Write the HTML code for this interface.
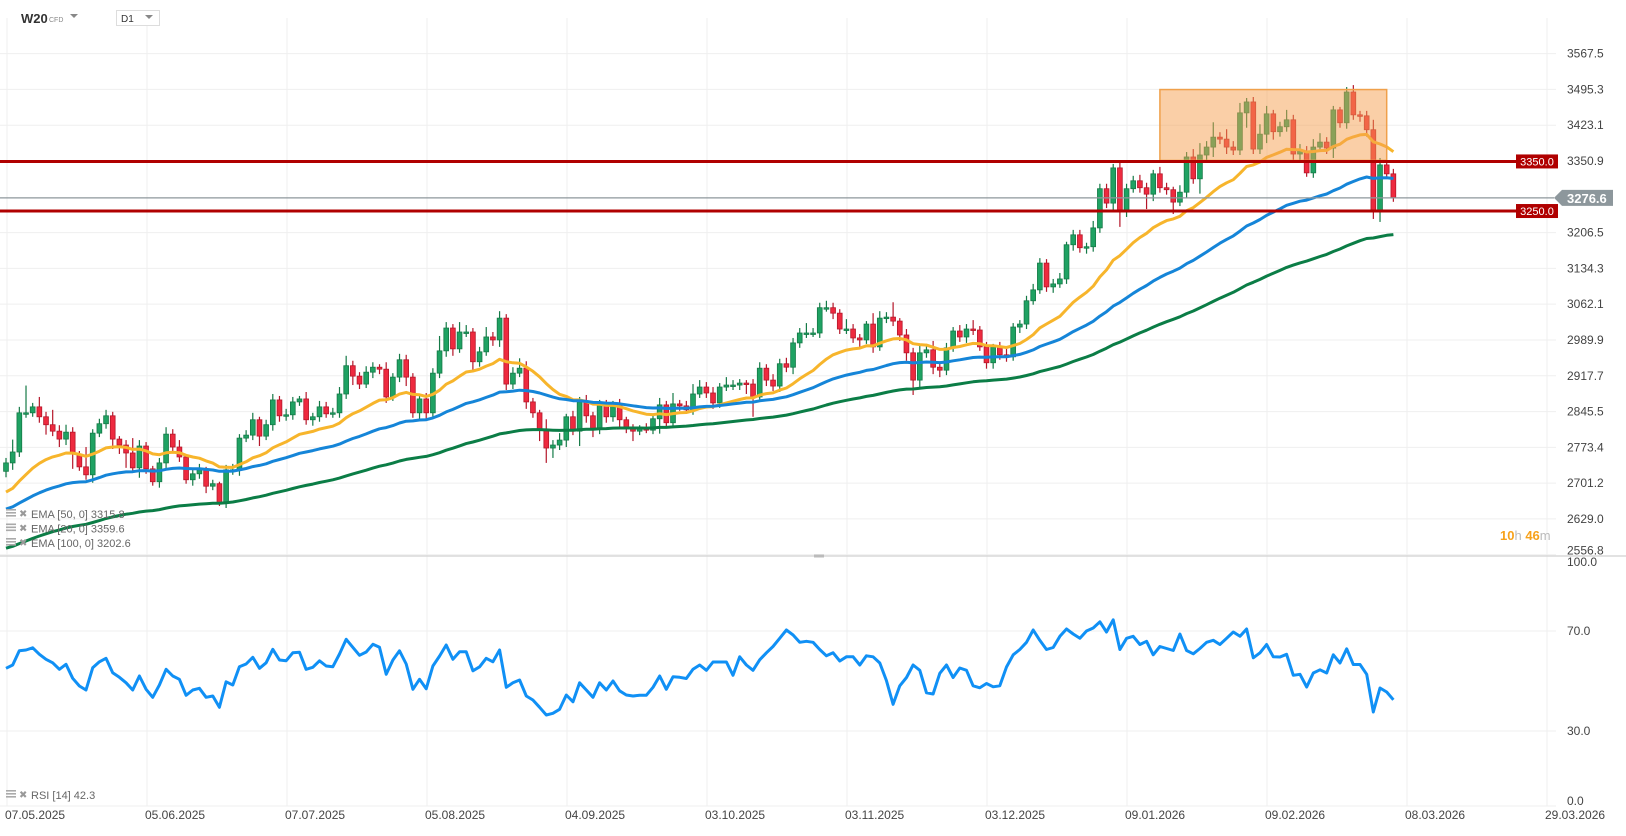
<!DOCTYPE html>
<html><head><meta charset="utf-8"><style>
html,body{margin:0;padding:0;background:#fff;}
body{width:1626px;height:831px;overflow:hidden;font-family:"Liberation Sans",sans-serif;}
svg text{font-family:"Liberation Sans",sans-serif;}
</style></head><body>
<svg id="chart" width="1626" height="831" xmlns="http://www.w3.org/2000/svg">
<g id="grid"></g>
<g id="candles"></g>
<g id="emas"></g>
<g id="overlay"></g>
<g id="rsi"></g>
<g id="axes"></g>
<g id="header">
  <text x="21" y="23" font-size="13" font-weight="bold" fill="#333">W20</text>
  <text x="49" y="22" font-size="7" fill="#888">CFD</text>
  <path d="M70 14 L78 14 L74 18 Z" fill="#888"/>
  <rect x="116.5" y="10.5" width="43" height="15" fill="#fff" stroke="#ddd"/>
  <text x="121" y="22" font-size="10" fill="#333">D1</text>
  <path d="M145 15 L153 15 L149 19 Z" fill="#888"/>
</g>
</svg>
<script>
const closes=[2742,2764,2843,2843,2855,2835,2819,2806,2790,2804,2760,2734,2718,2802,2821,2837,2790,2778,2762,2732,2776,2730,2704,2742,2800,2774,2754,2708,2720,2728,2695,2700,2661,2728,2728,2792,2798,2829,2796,2819,2869,2837,2839,2865,2871,2829,2835,2855,2841,2843,2881,2938,2917,2901,2925,2935,2931,2875,2915,2950,2915,2843,2871,2843,2923,2968,3014,2972,3006,3006,2946,2966,2996,2990,3034,2901,2923,2933,2865,2843,2810,2772,2778,2788,2835,2806,2865,2837,2810,2859,2835,2859,2829,2812,2806,2812,2808,2831,2859,2823,2861,2857,2849,2881,2895,2883,2863,2895,2899,2899,2903,2901,2875,2933,2909,2897,2942,2935,2984,3004,3004,3004,3055,3055,3044,3012,3012,2994,2990,3022,2976,3034,3036,3028,3000,2964,2909,2964,2970,2935,2929,2974,3008,2996,3012,3010,2976,2944,2976,2960,2956,3016,3022,3069,3091,3145,3097,3103,3113,3182,3202,3176,3178,3216,3295,3266,3337,3248,3295,3311,3297,3284,3325,3297,3293,3268,3288,3359,3315,3363,3379,3399,3395,3379,3373,3448,3470,3375,3405,3446,3410,3420,3434,3365,3371,3327,3379,3389,3377,3454,3428,3490,3444,3442,3414,3248,3343,3325,3276.6];
const firstOpen=[2725];
const wickUp=[10,25,12,55,8,20,10,30,12,15,10,6,40,8,10,12,8,6,10,30,12,8,6,10,14,10,14,4,10,12,6,8,4,10,12,8,10,14,6,10,12,8,12,10,6,14,8,12,10,10,14,20,10,8,12,10,6,14,8,12,10,8,6,12,10,30,12,8,20,14,8,10,20,10,14,8,12,20,14,8,6,20,10,14,6,12,10,14,8,10,10,8,12,6,8,6,10,10,14,8,22,8,10,20,14,10,12,8,16,10,8,6,10,12,8,12,10,12,10,10,20,10,10,14,10,8,20,10,8,6,22,14,10,30,6,12,10,14,12,18,10,10,8,12,10,18,8,10,6,10,12,8,8,10,12,10,8,10,12,6,10,10,8,14,10,10,8,10,10,10,12,10,8,14,10,6,14,10,16,24,12,30,10,20,12,20,8,10,20,16,8,10,20,10,14,10,16,18,10,8,6,10,14,8,10,20,14,10,10,10,8,6];
const wickDn=[12,14,10,10,8,12,20,10,16,12,30,8,10,16,8,10,20,18,30,10,20,10,8,12,14,10,10,8,12,10,14,8,6,10,10,12,8,10,20,8,12,12,10,10,8,10,12,10,8,8,10,10,18,10,8,12,10,12,8,10,18,10,16,12,8,10,12,14,8,10,20,10,8,12,14,12,10,8,14,10,24,30,20,10,14,8,30,14,16,10,12,10,16,10,20,8,6,8,30,10,8,10,8,10,8,10,12,10,8,10,10,20,40,10,12,10,12,10,14,10,10,8,10,8,12,10,10,10,14,8,12,8,10,10,12,16,30,14,10,14,14,10,8,10,12,10,8,12,12,10,10,8,12,10,8,8,10,12,8,10,12,10,12,10,10,10,14,30,10,8,10,30,14,10,10,24,8,12,10,30,10,20,10,14,10,10,30,10,10,18,16,10,10,12,14,8,10,10,12,20,10,12,10,12,14,14,20,10,8,8,6];
const rsiVals=[55.1,56.4,62.1,62.4,63.3,60.7,58.7,57.3,54.7,56.7,51.1,48,46.4,55.3,57.7,59.1,53.3,51.5,49.3,46.4,52,46.7,43.5,48.4,54.7,52,50.7,44.3,46.4,47.1,43.5,44,39.5,49.7,48.4,55.7,56.8,59.5,55.1,57.3,62.7,58.4,58.1,61.3,61.5,54.7,55.5,58.1,56,55.7,60.8,66.7,63.5,60.3,61.6,64.7,63.5,52.7,58.4,62.1,56.8,46.7,50.7,46.9,56,60,64.4,58.7,61.7,61.7,54.1,55.7,59.1,57.7,62.4,47.5,49.3,50.4,44,42.4,39.5,36.4,37.1,38.7,44.4,41.7,49.3,46.4,43.5,49.3,46.4,50,46.1,44.4,44,44.3,44.3,47.5,52,46.7,51.7,51.5,51,54.7,56.4,
54.3,57.6,57.6,57.6,52.3,59.7,56.4,54.3,58.5,61.3,63.8,67.1,70.4,68.4,65.5,65.9,65.5,62.6,60.1,61.3,58,59.7,59.7,56.4,60.1,59.7,57.2,50.2,40.7,48.1,51.4,56.4,54.3,45.3,44.8,53.1,56.4,51.4,55.2,54.3,48.1,47.3,49,47.7,48.1,55.6,60.5,62.6,65.5,70.4,66.3,62.6,63.4,67.9,70.8,68.8,67.1,70,71.2,73.7,69.6,74.5,62.6,67.1,67.9,64.6,65.9,60.5,63.8,63,62.2,68.8,62.2,60.9,63,65.5,66.3,64.6,67.1,69.6,67.9,70.8,59.3,61.3,64.6,59.7,
59.6,60.7,52.3,52.7,47.6,53.2,54.5,53.2,60.5,57.2,62.9,56.6,56.6,52.7,37.6,47.2,45.6,42.5];
const priceTicks=[3567.5,3495.3,3423.1,3350.9,3206.5,3134.3,3062.1,2989.9,2917.7,2845.5,2773.4,2701.2,2629.0,2556.8];
const rsiTicks=[100,70,30,0];
const rsiTickLabels=["100.0","70.0","30.0","0.0"];
const dateLabels=["07.05.2025","05.06.2025","07.07.2025","05.08.2025","04.09.2025","03.10.2025","03.11.2025","03.12.2025","09.01.2026","09.02.2026","08.03.2026","29.03.2026"];
const emaPeriods=[20,50,100];
const emaSeeds=[2683,2649,2570];
const emaLabelValues=["3359.6","3315.8","3202.6"];
const levels=[3350.0,3250.0];
const lastPrice=[3276.6];
const boxPrices=[3495,3352];
const boxIdx=[173,207];

const NS="http://www.w3.org/2000/svg";
const X=i=>6+i*6.67;
const Y=p=>161+(3350.9-p)*0.4958;
const RY=v=>806-v*2.5;
function el(tag,attrs,parent){const e=document.createElementNS(NS,tag);for(const k in attrs)e.setAttribute(k,attrs[k]);parent.appendChild(e);return e;}
const grid=document.getElementById('grid'),cg=document.getElementById('candles'),eg=document.getElementById('emas'),og=document.getElementById('overlay'),rg=document.getElementById('rsi'),ag=document.getElementById('axes');

priceTicks.forEach(t=>{const l=el('line',{x1:0,x2:1556,y1:Y(t),y2:Y(t),stroke:'#efefef','stroke-width':1},grid);

});
rsiTicks.slice(1).forEach(t=>{const l=el('line',{x1:0,x2:1556,y1:RY(t),y2:RY(t),stroke:'#efefef','stroke-width':1},grid);

});
dateLabels.forEach((d,k)=>{const x=7+140*k;const l=el('line',{x1:x,x2:x,y1:18,y2:806,stroke:'#efefef','stroke-width':1},grid);

});

closes.forEach((c,i)=>{const o=i===0?firstOpen[0]:closes[i-1];const up=c>=o;
const hi=Math.max(o,c)+wickUp[i%wickUp.length],lo=Math.min(o,c)-wickDn[i%wickDn.length];
const x=X(i);const col=up?'#1fa263':'#ee2a3f',bd=up?'#157a47':'#b5172a';
const g=el('g',{},cg);


el('line',{x1:x,x2:x,y1:Y(hi),y2:Y(lo),stroke:bd,'stroke-width':1.2},g);
const yt=Y(Math.max(o,c)),yb=Y(Math.min(o,c));
el('rect',{x:x-2.4,y:yt,width:4.8,height:Math.max(1.5,yb-yt),fill:col,stroke:bd,'stroke-width':0.8},g);});

const emaColors=['#f7b52c','#1585d8','#0b7d46'];
emaPeriods.forEach((n,k)=>{const a=2/(n+1);let e=emaSeeds[k];const pts=[];
closes.forEach((c,i)=>{e=i===0?e:e+a*(c-e);pts.push(X(i).toFixed(1)+','+Y(e).toFixed(1));});
const pl=el('polyline',{points:pts.join(' '),fill:'none',stroke:emaColors[k],'stroke-width':3,'stroke-linejoin':'round'},eg);

});

const bx=X(boxIdx[0]),bw=X(boxIdx[1])-X(boxIdx[0]);
const box=el('rect',{x:bx,y:Y(boxPrices[0]),width:bw,height:Y(boxPrices[1])-Y(boxPrices[0]),fill:'rgba(246,160,80,0.5)',stroke:'#f0a04a','stroke-width':1.5},og);



levels.forEach(lv=>{const y=Y(lv);
const l=el('line',{x1:0,x2:1517,y1:y,y2:y,stroke:'#b00000','stroke-width':3},og);


const r=el('rect',{x:1516,y:y-7,width:42,height:14,fill:'#b00000'},og);


const t=el('text',{x:1537,y:y+4,'font-size':11,fill:'#fff','text-anchor':'middle'},og);t.textContent=lv.toFixed(1);

});

{const y=Y(lastPrice[0]);
const l=el('line',{x1:0,x2:1554,y1:y,y2:y,stroke:'#8d979c','stroke-width':1.2},og);


const p=el('path',{d:`M1554 ${y} L1562 ${y-8} L1613 ${y-8} L1613 ${y+8} L1562 ${y+8} Z`,fill:'#8d979c'},og);


const t=el('text',{x:1567,y:y+5,'font-size':13,'font-weight':'bold',fill:'#fff'},og);t.textContent=lastPrice[0].toFixed(1);

}

priceTicks.forEach((t,k)=>{const off=k===priceTicks.length-1?0:4;const tx=el('text',{x:1567,y:Y(t)+off,'font-size':12,fill:'#444'},ag);tx.textContent=t.toFixed(1);

});
{const s=el('line',{x1:0,x2:1626,y1:556,y2:556,stroke:'#d8d8d8','stroke-width':1.5},ag);


const h=el('rect',{x:814,y:554.5,width:10,height:3,fill:'#bbb'},ag);

}
{const t=el('text',{x:1500,y:540,'font-size':13,fill:'#f7a21b','font-weight':'bold'},ag);
t.innerHTML='10<tspan fill="#bbb" font-weight="normal">h</tspan> 46<tspan fill="#bbb" font-weight="normal">m</tspan>';

}
emaPeriods.forEach((n,k)=>{const order=[1,0,2];const y=516+order[k]*14.5;
const g=el('g',{},ag);


el('rect',{x:6,y:y-7,width:10,height:1.6,fill:'#aaa'},g);el('rect',{x:6,y:y-4,width:10,height:1.6,fill:'#aaa'},g);el('rect',{x:6,y:y-1,width:10,height:1.6,fill:'#aaa'},g);
const t=el('text',{x:19,y:y+1,'font-size':10,fill:'#999'},g);t.textContent='✖';
const t2=el('text',{x:31,y:y+2,'font-size':11,fill:'#666'},g);t2.textContent='EMA  ['+n+',  0]  '+emaLabelValues[k];});

{const pts=rsiVals.map((v,i)=>X(i).toFixed(1)+','+RY(v).toFixed(1));
const pl=el('polyline',{points:pts.join(' '),fill:'none',stroke:'#1090f5','stroke-width':3,'stroke-linejoin':'round'},rg);


rsiTicks.forEach((t,k)=>{const tx=el('text',{x:1567,y:RY(t)+(t===0?-1:(t===100?10:4)),'font-size':12,fill:'#444'},rg);tx.textContent=rsiTickLabels[k];

});
const g=el('g',{},rg);


el('rect',{x:6,y:790,width:10,height:1.6,fill:'#aaa'},g);el('rect',{x:6,y:793,width:10,height:1.6,fill:'#aaa'},g);el('rect',{x:6,y:796,width:10,height:1.6,fill:'#aaa'},g);
const t=el('text',{x:19,y:798,'font-size':10,fill:'#999'},g);t.textContent='✖';
const t2=el('text',{x:31,y:799,'font-size':11,fill:'#666'},g);t2.textContent='RSI  [14]  42.3';}

dateLabels.forEach((d,k)=>{const t=el('text',{x:5+140*k,y:819,'font-size':12,fill:'#444'},ag);t.textContent=d;

});
</script>
</body></html>
